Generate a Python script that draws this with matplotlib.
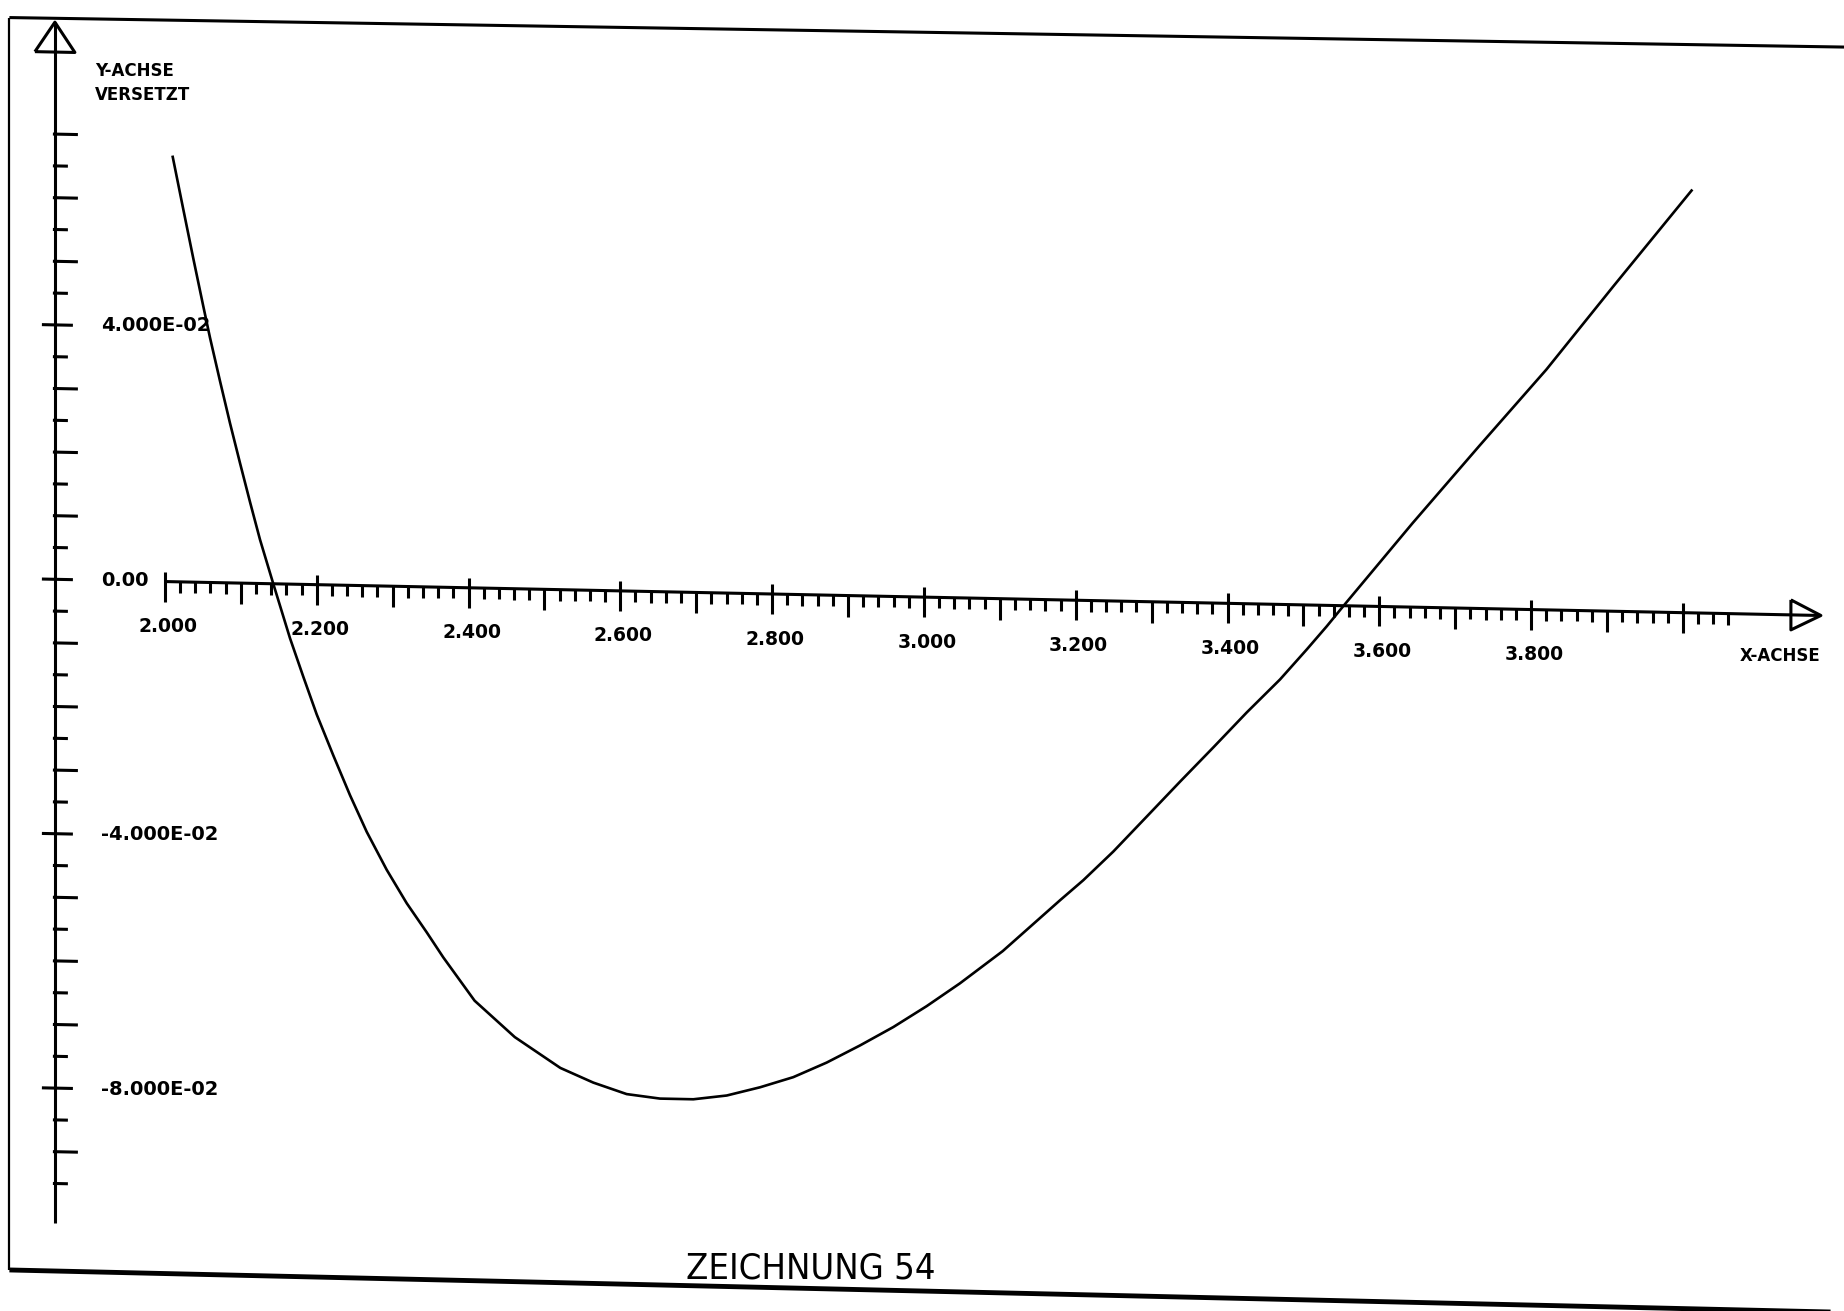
import math
import numpy as np
import matplotlib.pyplot as plt
from matplotlib import font_manager
from matplotlib.transforms import Affine2D

x_vals = [2.0103, 2.0242, 2.0374, 2.0506, 2.0594, 2.0726, 2.0858, 2.0989, 2.1121, 2.1253,
          2.1428, 2.1648, 2.1823, 2.2000, 2.2219, 2.2439, 2.2659, 2.2922, 2.3186, 2.3449,
          2.3668, 2.4080, 2.4610, 2.5210, 2.5644, 2.6084, 2.6523, 2.6962, 2.7402, 2.7841,
          2.8279, 2.8719, 2.9158, 2.9597, 3.0037, 3.0476, 3.1039, 3.1796, 3.2100, 3.2495,
          3.2935, 3.3374, 3.3813, 3.4253, 3.4692, 3.5044, 3.5307, 3.5530, 3.6438, 3.7320,
          3.8202, 3.9084, 4.0114]
y_vals = [0.0668, 0.0586, 0.0509, 0.0434, 0.0385, 0.0317, 0.0251, 0.0189, 0.0128, 0.0069,
          0.0000, -0.0085, -0.0145, -0.0204, -0.0268, -0.0330, -0.0387, -0.0446, -0.0498, -0.0543,
          -0.0582, -0.0649, -0.0705, -0.0752, -0.0774, -0.0791, -0.0797, -0.0797, -0.0790, -0.0776,
          -0.0759, -0.0735, -0.0707, -0.0677, -0.0643, -0.0606, -0.0554, -0.0472, -0.0440, -0.0394,
          -0.0338, -0.0282, -0.0227, -0.0171, -0.0118, -0.0070, -0.0033, 0.0000, 0.0132, 0.0256,
          0.0378, 0.0511, 0.0664]

x_label_vals = [2.0, 2.2, 2.4, 2.6, 2.8, 3.0, 3.2, 3.4, 3.6, 3.8]
y_label_vals = [0.04, 0.0, -0.04, -0.08]
y_tick_labels = ['4.000E-02', '0.00', '-4.000E-02', '-8.000E-02']
x_name = 'X-ACHSE'
y_name = ['Y-ACHSE', 'VERSETZT']
title = 'ZEICHNUNG 54'

names = {f.name for f in font_manager.fontManager.ttflist}
title_family = 'Liberation Sans Narrow' if 'Liberation Sans Narrow' in names else 'DejaVu Sans'

W, H = 1844, 1311
fig = plt.figure(figsize=(W / 100, H / 100), dpi=100)
ax = fig.add_axes([0, 0, 1, 1])
ax.set_xlim(1.78274, 4.21225)
ax.set_ylim(-0.115047, 0.091085)
ax.axis('off')

px = 1 / 759.0        # x-Einheiten pro Pixel
py = 0.01 / 63.6      # y-Einheiten pro Pixel

# das Blatt ist leicht schraeg eingezogen
k = 0.0205
shear = Affine2D().skew(0, -math.atan(k)).translate(0, k * 55)
tr = ax.transData + shear

def line(xs, ys, lw=2.2, t=None):
    ax.plot(xs, ys, color='black', lw=lw, transform=t or tr, solid_capstyle='butt')

# Rahmen des Blattes
fr = fig.transFigure
line([0.0051, 0.0051], [0.0313, 0.9866], lw=1.6, t=fr)
line([0.0051, 1.0], [0.9866, 0.9641], lw=2.2, t=fr)
line([0.0051, 1.0], [0.0313, -0.001], lw=3.5, t=fr)

# Y-Achse (versetzt)
y_ax_x = 2 - 110 * px
line([y_ax_x, y_ax_x], [-0.1012, 0.0876])
line([y_ax_x - 20 * px, y_ax_x, y_ax_x + 20 * px, y_ax_x - 20 * px],
     [0.0829, 0.0876, 0.0829, 0.0829])
for j in range(-19, 15):
    v = j * 0.005
    if j % 8 == 0:
        line([y_ax_x - 13 * px, y_ax_x + 18 * px], [v, v])
    elif j % 2 == 0:
        line([y_ax_x - 2 * px, y_ax_x + 23 * px], [v, v])
    else:
        line([y_ax_x - 2 * px, y_ax_x + 13 * px], [v, v])

for v, lab in zip(y_label_vals, y_tick_labels):
    ax.text(2 - 64 * px, v, lab, ha='left', va='center', fontsize=14,
            fontweight='bold', transform=tr)

ax.text(2 - 70 * px, 0.0801, y_name[0], ha='left', va='center', fontsize=12,
        fontweight='bold', transform=tr)
ax.text(2 - 70 * px, 0.0763, y_name[1], ha='left', va='center', fontsize=12,
        fontweight='bold', transform=tr)

# X-Achse
tip = 4.1818
line([2.0, tip], [0, 0])
line([4.1423, tip, 4.1423, 4.1423], [0.00236, 0, -0.00236, 0.00236])
for i in range(104):
    v = 2.0 + i * 0.02
    if i % 10 == 0:
        line([v, v], [10 * py, -20 * py])
    elif i % 5 == 0:
        line([v, v], [0, -21 * py])
    else:
        line([v, v], [0, -11 * py])

for v in x_label_vals:
    ax.text(v + 3 * px, -45 * py, f'{v:.3f}', ha='center', va='center', fontsize=13.5,
            fontweight='bold', transform=tr)
ax.text(tip, -40 * py, x_name, ha='right', va='center', fontsize=12,
        fontweight='bold', transform=tr)

# Kurve
ax.plot(x_vals, y_vals, color='black', lw=1.9, transform=tr)

ax.text(2.8513, -0.10585, title, ha='center', va='center', fontsize=26,
        family=title_family, fontstretch='condensed', transform=tr)

plt.savefig('out.png', dpi=100)
